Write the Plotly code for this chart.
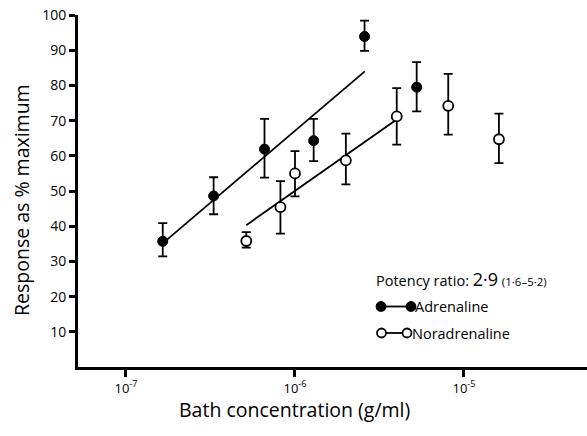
import plotly.graph_objects as go

# Adrenaline (filled circles)
adr_x = [1.65e-7, 3.3e-7, 6.6e-7, 1.29e-6, 2.58e-6, 5.25e-6]
adr_y = [35.7, 48.6, 61.9, 64.3, 93.9, 79.5]
adr_hi = [40.9, 53.9, 70.5, 70.5, 98.4, 86.6]
adr_lo = [31.4, 43.4, 53.8, 58.5, 89.8, 72.6]

# Noradrenaline (open circles)
nor_x = [5.15e-7, 8.2e-7, 1.0e-6, 2.0e-6, 4.0e-6, 8.07e-6, 1.61e-5]
nor_y = [35.8, 45.4, 55.0, 58.7, 71.2, 74.2, 64.7]
nor_hi = [38.3, 52.8, 61.3, 66.3, 79.2, 83.3, 72.0]
nor_lo = [33.9, 37.9, 48.5, 51.9, 63.2, 66.0, 57.9]

# Fitted regression lines (end points)
adr_fit_x = [1.75e-7, 2.59e-6]
adr_fit_y = [36.2, 84.0]
nor_fit_x = [5.15e-7, 3.94e-6]
nor_fit_y = [40.3, 70.1]

y_ticks = [10, 20, 30, 40, 50, 60, 70, 80, 90, 100]
x_ticks = [1e-7, 1e-6, 1e-5]
x_tick_text = ["10<sup>-7</sup>", "10<sup>-6</sup>", "10<sup>-5</sup>"]

FONT = "Open Sans"

def err(vals, hi, lo):
    return [h - v for v, h in zip(vals, hi)], [v - l for v, l in zip(vals, lo)]

fig = go.Figure()
fig.add_trace(go.Scatter(x=adr_fit_x, y=adr_fit_y, mode="lines",
                         line=dict(color="black", width=1.8), showlegend=False))
fig.add_trace(go.Scatter(x=nor_fit_x, y=nor_fit_y, mode="lines",
                         line=dict(color="black", width=1.8), showlegend=False))

ap, am = err(adr_y, adr_hi, adr_lo)
fig.add_trace(go.Scatter(x=adr_x, y=adr_y, mode="markers",
                         marker=dict(color="black", size=10, line=dict(color="black", width=1)),
                         error_y=dict(type="data", array=ap, arrayminus=am, symmetric=False,
                                      color="black", thickness=1.8, width=4.5),
                         showlegend=False))
nplus, nminus = err(nor_y, nor_hi, nor_lo)
fig.add_trace(go.Scatter(x=nor_x, y=nor_y, mode="markers",
                         marker=dict(color="white", size=10, line=dict(color="black", width=1.8)),
                         error_y=dict(type="data", array=nplus, arrayminus=nminus, symmetric=False,
                                      color="black", thickness=1.8, width=4.5),
                         showlegend=False))


def px_x(p):
    return (p - 78) / 509


def px_y(p):
    return (367 - p) / 352


# Potency ratio text
fig.add_annotation(xref="paper", yref="paper", x=px_x(374), y=px_y(279), xanchor="left",
                   yanchor="middle", showarrow=False,
                   text="Potency ratio: <span style='font-size:18px'>2·9</span> <span style='font-size:11.5px'>(1·6–5·2)</span>",
                   font=dict(family=FONT, size=14.5, color="black"))

# Legend key drawn with shapes
rows = [(306.5, 381, 411, "black", "Adrenaline", 414), (333, 381.5, 407, "white", "Noradrenaline", 411)]
for ry, xa, xb, fill, label, tx in rows:
    fig.add_shape(type="line", xref="paper", yref="paper", x0=px_x(xa), x1=px_x(xb),
                  y0=px_y(ry), y1=px_y(ry), line=dict(color="black", width=1.8))
    for cx in (xa, xb):
        fig.add_shape(type="circle", xref="paper", yref="paper", xsizemode="pixel", ysizemode="pixel",
                      xanchor=px_x(cx), yanchor=px_y(ry), x0=-4.5, x1=4.5, y0=-4.5, y1=4.5,
                      fillcolor=fill, line=dict(color="black", width=1.8))
    fig.add_annotation(xref="paper", yref="paper", x=px_x(tx - 1), y=px_y(ry), xanchor="left",
                       yanchor="middle", showarrow=False, text=label,
                       font=dict(family=FONT, size=14.5, color="black"))

# Axis titles
fig.add_annotation(xref="paper", yref="paper", x=px_x(294), y=px_y(409), xanchor="center",
                   yanchor="middle", showarrow=False, text="Bath concentration (g/ml)",
                   font=dict(family=FONT, size=19.5, color="black"))
fig.add_annotation(xref="paper", yref="paper", x=px_x(21), y=px_y(200), xanchor="center",
                   yanchor="middle", showarrow=False, text="Response as % maximum", textangle=-90,
                   font=dict(family=FONT, size=19.5, color="black"))

fig.update_xaxes(type="log", range=[-7.284, -4.272], tickvals=x_ticks, ticktext=x_tick_text,
                 ticks="outside", ticklen=7, tickwidth=2.5, tickcolor="black",
                 showline=True, linecolor="black", linewidth=3, showgrid=False, zeroline=False,
                 tickfont=dict(family=FONT, size=13, color="black"))
fig.update_yaxes(range=[0, 100], tickvals=y_ticks,
                 ticks="outside", ticklen=6, tickwidth=2.5, tickcolor="black",
                 showline=True, linecolor="black", linewidth=3, showgrid=False, zeroline=False,
                 tickfont=dict(family=FONT, size=14, color="black"))

fig.update_layout(width=587, height=436, margin=dict(l=78, r=0, t=15, b=69),
                  plot_bgcolor="white", paper_bgcolor="white")

fig.write_html("out.html")
